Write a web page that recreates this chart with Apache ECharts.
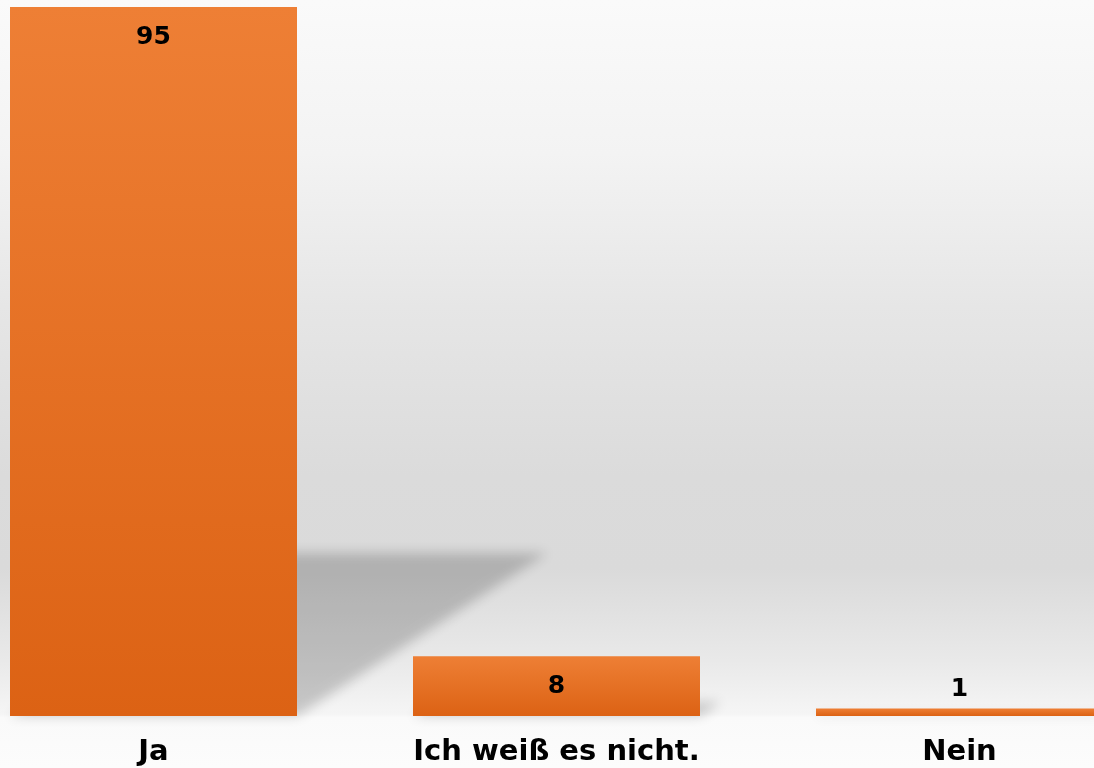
<!DOCTYPE html>
<html>
<head>
<meta charset="utf-8">
<script src="https://cdn.jsdelivr.net/npm/echarts@6/dist/echarts.min.js"></script>
<style>
  html, body { margin: 0; padding: 0; }
  #chart { width: 1094px; height: 768px; }
</style>
</head>
<body>
<div id="chart"></div>
<script>
// Umfrage-Antworten
var categories = ['Ja', 'Ich weiß es nicht.', 'Nein'];
var counts = [95, 8, 1];
var labelPos = ['insideTop', 'insideTop', 'top'];

var chart = echarts.init(document.getElementById('chart'));

var barColor = new echarts.graphic.LinearGradient(0, 0, 0, 1, [
  { offset: 0, color: '#ee7f35' },
  { offset: 1, color: '#dc6214' }
]);

// schräger Schlagschatten hinter jedem Balken
// (Form wird außerhalb gezeichnet, nur der weiche Schatten wird zurückversetzt)
var OFF = 3000;
function renderShadow(params, api) {
  var idx = api.value(0);
  var base = api.coord([idx, 0]);
  var top = api.coord([idx, api.value(1)]);
  var w = 287;
  var h = base[1] - top[1];
  var dx = h * 0.353, dy = h * 0.23;
  var x0 = base[0] - w / 2 - OFF, x1 = base[0] + w / 2 - OFF;
  return {
    type: 'polygon',
    shape: { points: [[x0, base[1]], [x1, base[1]], [x1 + dx, base[1] - dy], [x0 + dx, base[1] - dy]] },
    style: {
      fill: '#000',
      shadowBlur: 12,
      shadowOffsetX: OFF,
      shadowColor: 'rgba(0,0,0,0.19)'
    }
  };
}

chart.setOption({
  backgroundColor: new echarts.graphic.LinearGradient(0, 0, 0, 1, [
    { offset: 0, color: '#fafafa' },
    { offset: 0.2, color: '#f3f3f3' },
    { offset: 0.4, color: '#e6e6e6' },
    { offset: 0.62, color: '#dbdbdb' },
    { offset: 0.74, color: '#dadada' },
    { offset: 0.86, color: '#e9e9e9' },
    { offset: 0.93, color: '#f5f5f5' },
    { offset: 0.934, color: '#fafafa' },
    { offset: 1, color: '#fcfcfc' }
  ]),
  grid: { left: -48, right: -67, top: 7, bottom: 52, outerBoundsMode: 'none' },
  xAxis: {
    type: 'category',
    data: categories,
    axisLine: { show: false },
    axisTick: { show: false },
    axisLabel: {
      margin: 22,
      color: '#000',
      fontFamily: 'DejaVu Sans',
      fontWeight: 'bold',
      fontSize: 29
    }
  },
  yAxis: { type: 'value', min: 0, max: 95, show: false, splitLine: { show: false } },
  series: [
    {
      type: 'custom',
      renderItem: renderShadow,
      data: counts.map(function (v, i) { return [i, v]; }),
      clip: false,
      z: 1,
      silent: true
    },
    {
      type: 'bar',
      barWidth: 287,
      z: 2,
      data: counts.map(function (v, i) {
        return { value: v, label: { position: labelPos[i], distance: labelPos[i] === 'top' ? 7 : 18 } };
      }),
      itemStyle: { color: barColor },
      label: {
        show: true,
        color: '#000',
        fontFamily: 'DejaVu Sans',
        fontWeight: 'bold',
        fontSize: 25
      }
    }
  ]
});
</script>
</body>
</html>
